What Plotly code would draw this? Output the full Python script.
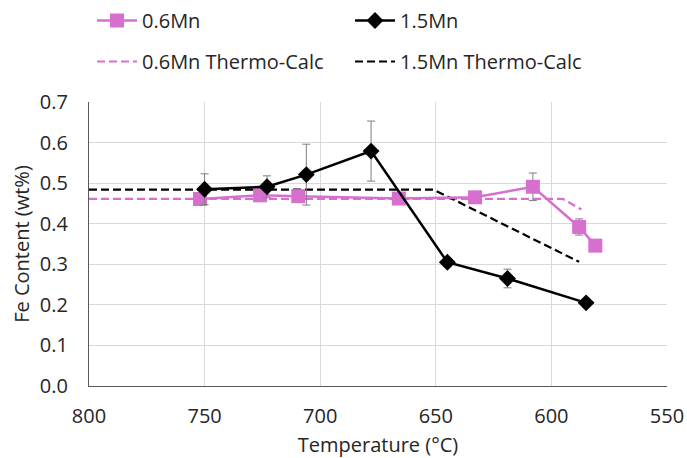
import plotly.graph_objects as go

# Data
mn06_temp = [752, 726, 709.5, 666, 633, 608, 588, 581]
mn06_fe = [0.461, 0.470, 0.468, 0.462, 0.465, 0.491, 0.392, 0.346]
mn06_err = [0.015, 0.008, 0.008, 0.0, 0.0, 0.034, 0.02, 0.0]

mn15_temp = [750, 723, 706, 678, 645, 619, 585]
mn15_fe = [0.485, 0.491, 0.521, 0.579, 0.305, 0.265, 0.205]
mn15_err = [0.038, 0.027, 0.075, 0.074, 0.01, 0.023, 0.0]

tc06_temp = [800, 595, 587]
tc06_fe = [0.461, 0.461, 0.435]

tc15_temp = [800, 651, 588]
tc15_fe = [0.484, 0.484, 0.306]

x_ticks = [800, 750, 700, 650, 600, 550]
y_ticks = [0.0, 0.1, 0.2, 0.3, 0.4, 0.5, 0.6, 0.7]

PINK = "#D76FCF"
FONT = "Open Sans"
FS = 20

fig = go.Figure()

fig.add_trace(go.Scatter(
    x=tc06_temp, y=tc06_fe, mode="lines", name="0.6Mn Thermo-Calc",
    line=dict(color=PINK, width=2.2, dash="8px,4px"), legend="legend2"))
fig.add_trace(go.Scatter(
    x=tc15_temp, y=tc15_fe, mode="lines", name="1.5Mn Thermo-Calc",
    line=dict(color="black", width=2.2, dash="8px,4px"), legend="legend2"))

fig.add_trace(go.Scatter(
    x=mn06_temp, y=mn06_fe, mode="lines+markers", name="0.6Mn",
    line=dict(color=PINK, width=2.5),
    marker=dict(symbol="square", size=14, color=PINK),
    error_y=dict(type="data", array=mn06_err, color="#7f7f7f", thickness=1, width=4),
    legend="legend"))
fig.add_trace(go.Scatter(
    x=mn15_temp, y=mn15_fe, mode="lines+markers", name="1.5Mn",
    line=dict(color="black", width=2.5),
    marker=dict(symbol="diamond", size=13, color="black"),
    error_y=dict(type="data", array=mn15_err, color="#7f7f7f", thickness=1, width=4),
    legend="legend"))

leg_common = dict(orientation="h", xref="container", yref="container",
                  xanchor="left", yanchor="top", entrywidth=203, itemwidth=40,
                  traceorder="normal", font=dict(size=FS, color="#262626"),
                  bgcolor="rgba(0,0,0,0)")

fig.update_layout(
    width=687, height=458,
    margin=dict(l=89, r=20, t=102, b=72, autoexpand=False),
    paper_bgcolor="white", plot_bgcolor="white",
    font=dict(family=FONT, size=FS, color="#262626"),
    legend=dict(x=92 / 687, y=1.0 - 1 / 458, **leg_common),
    legend2=dict(x=92 / 687, y=1.0 - 42 / 458, **leg_common),
    xaxis=dict(range=[800, 550], tickvals=x_ticks, ticktext=[str(v) for v in x_ticks],
               showgrid=True, gridcolor="#D9D9D9", gridwidth=1,
               showline=True, linecolor="#595959", linewidth=1.3,
               zeroline=False, ticks="", ticklabelstandoff=12, automargin=False,
               title=dict(text="Temperature (°C)", font=dict(size=FS), standoff=10)),
    yaxis=dict(range=[0, 0.7], tickvals=y_ticks, ticktext=[f"{v:.1f}" for v in y_ticks],
               showgrid=True, gridcolor="#D9D9D9", gridwidth=1,
               showline=True, linecolor="#595959", linewidth=1.3,
               zeroline=False, ticks="", ticklabelstandoff=16, automargin=False,
               title=dict(text="Fe Content (wt%)", font=dict(size=FS), standoff=4)),
)

fig.write_html("out.html")
